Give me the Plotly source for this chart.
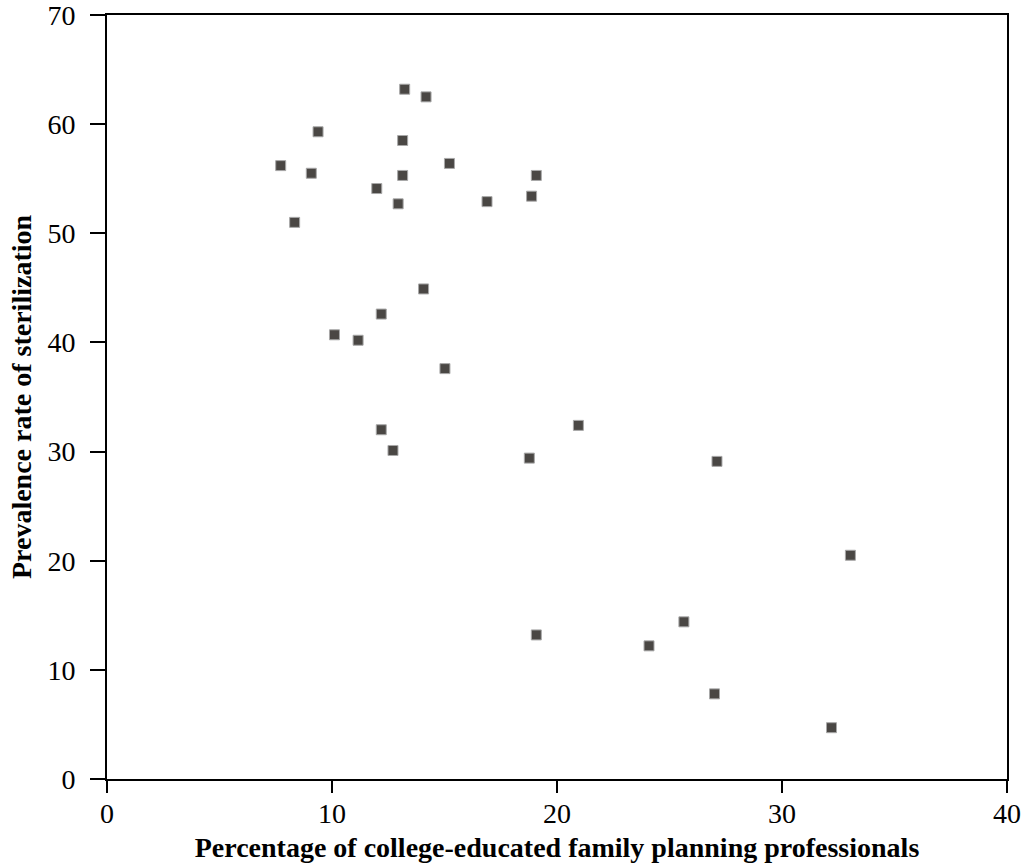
import plotly.graph_objects as go

college_pct = [13.23, 14.18, 9.38, 13.14, 15.22, 7.72, 9.08, 13.14, 19.08, 11.99,
               18.87, 12.94, 16.89, 8.34, 14.07, 12.19, 10.11, 11.16, 15.02, 12.19,
               12.71, 20.95, 18.77, 27.11, 33.04, 25.64, 24.09, 19.08, 27.0, 32.2]
sterilization = [63.2, 62.5, 59.3, 58.5, 56.4, 56.2, 55.5, 55.3, 55.3, 54.1,
                 53.4, 52.7, 52.9, 51.0, 44.9, 42.6, 40.7, 40.2, 37.6, 32.0,
                 30.1, 32.4, 29.4, 29.1, 20.5, 14.4, 12.2, 13.2, 7.8, 4.7]
x_ticks = [0, 10, 20, 30, 40]
y_ticks = [0, 10, 20, 30, 40, 50, 60, 70]

font_family = "Liberation Serif, Times New Roman, serif"

fig = go.Figure(go.Scatter(
    x=college_pct, y=sterilization, mode="markers",
    marker=dict(symbol="square", size=10, color="#4a4744",
                line=dict(color="#a8a8a8", width=1)),
    showlegend=False, hoverinfo="x+y"))

fig.update_layout(
    width=1024, height=867,
    margin=dict(l=107, r=17, t=15, b=88),
    paper_bgcolor="white", plot_bgcolor="white",
    font=dict(family=font_family, size=28, color="black"),
)
fig.update_xaxes(
    range=[0, 40], tickvals=x_ticks, ticks="outside", ticklen=12, tickwidth=2,
    tickcolor="black", showline=True, linewidth=2, linecolor="black", mirror=True,
    showgrid=False, zeroline=False, automargin=False, ticklabeloverflow="allow",
    ticklabelstandoff=-4,
    tickfont=dict(family=font_family, size=28),
    title=dict(text="<b>Percentage of college-educated family planning professionals</b>",
               font=dict(family=font_family, size=28), standoff=10))
fig.update_yaxes(
    range=[0, 70], tickvals=y_ticks, ticks="outside", ticklen=15, tickwidth=2,
    tickcolor="black", showline=True, linewidth=2, linecolor="black", mirror=True,
    showgrid=False, zeroline=False, automargin=False, ticklabeloverflow="allow",
    ticklabelstandoff=9,
    tickfont=dict(family=font_family, size=28),
    title=dict(text="<b>Prevalence rate of sterilization</b>",
               font=dict(family=font_family, size=28), standoff=8))

fig.write_html("out.html", config={"displayModeBar": False},
               post_script="document.body.style.margin='0';")
